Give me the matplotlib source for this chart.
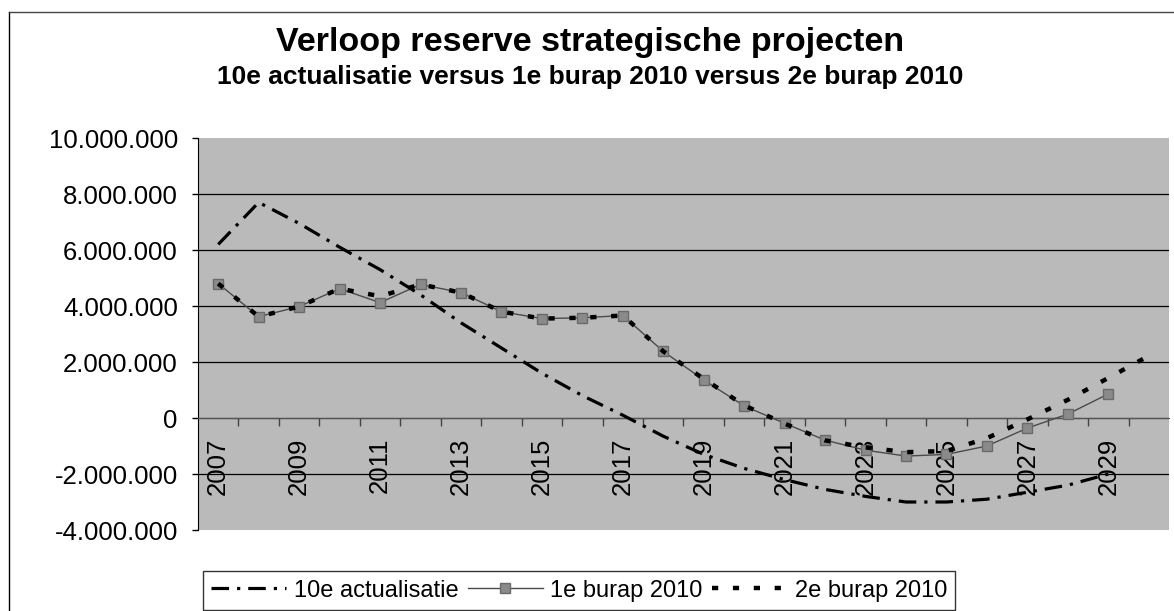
import numpy as np
import matplotlib
matplotlib.use("Agg")
import matplotlib.pyplot as plt
from matplotlib.lines import Line2D
from matplotlib.ticker import FuncFormatter, FixedLocator

plt.rcParams['font.family'] = ['Liberation Sans', 'DejaVu Sans']

# jaren op de x-as
years = list(range(2007, 2031))

# waarden in miljoenen euro's
act10 = [6.2, 7.7, 6.95, 6.1, 5.3, 4.4, 3.4, 2.5, 1.6, 0.8, 0.1, -0.65,
         -1.3, -1.8, -2.2, -2.55, -2.8, -3.0, -3.0, -2.9, -2.65, -2.4, -2.0, np.nan]
burap1 = [4.8, 3.62, 3.98, 4.62, 4.12, 4.77, 4.48, 3.8, 3.55, 3.58, 3.66, 2.38,
          1.36, 0.43, -0.19, -0.79, -1.15, -1.36, -1.3, -1.0, -0.36, 0.14, 0.86, np.nan]
burap2 = [4.8, 3.62, 3.98, 4.62, 4.35, 4.77, 4.48, 3.8, 3.55, 3.58, 3.66, 2.38,
          1.4, 0.45, -0.2, -0.8, -1.05, -1.22, -1.18, -0.72, -0.05, 0.65, 1.43, 2.22]

y_ticks = [-4, -2, 0, 2, 4, 6, 8, 10]

W, H = 1174, 611
fig = plt.figure(figsize=(W / 100, H / 100), dpi=100, facecolor='white')

# plotgebied
ax = fig.add_axes([198 / W, 1 - 530 / H, 971 / W, 392 / H])
ax.set_facecolor('#bababa')

x = np.arange(len(years))
ax.plot(x, np.array(act10) * 1e6, color='black', lw=2.3, dashes=(5.5, 2.5, 1, 2.5),
        label='10e actualisatie', zorder=3)
ax.plot(x, np.array(burap1) * 1e6, color='#4a4a4a', lw=1, marker='s', ms=6.5,
        mfc='#8a8a8a', mec='#6a6a6a', label='1e burap 2010', zorder=4)
ax.plot(x, np.array(burap2) * 1e6, color='black', lw=3.2, dashes=(1.4, 3.3),
        label='2e burap 2010', zorder=5)

ax.set_xlim(-0.5, len(years) - 0.5)
ax.set_ylim(y_ticks[0] * 1e6, y_ticks[-1] * 1e6)

ax.set_yticks([v * 1e6 for v in y_ticks])
ax.yaxis.set_major_formatter(FuncFormatter(lambda v, p: f"{int(round(v)):,}".replace(',', '.')))
ax.tick_params(axis='y', labelsize=18.5, length=4.5, width=1, pad=10, direction='out')

ax.grid(axis='y', color='black', lw=0.9)
gl = ax.get_ygridlines()
gl[0].set_visible(False)
gl[-1].set_visible(False)
ax.set_axisbelow(True)

# x-as op nul, labels om het jaar
ax.spines['bottom'].set_position(('data', 0))
ax.spines['bottom'].set_color('#555555')
ax.spines['top'].set_visible(False)
ax.spines['right'].set_visible(False)
ax.spines['left'].set_color('black')

ax.set_xticks(x[::2])
ax.set_xticklabels([str(y) for y in years[::2]], rotation=90, fontsize=18.5)
ax.xaxis.set_minor_locator(FixedLocator(np.arange(0.5, len(years) - 1, 1)))
ax.tick_params(axis='x', which='major', length=0, pad=14)
ax.tick_params(axis='x', which='minor', length=6, width=1, color='#444444', direction='out')

# titels
fig.text(0.503, 1 - 43 / H, 'Verloop reserve strategische projecten',
         ha='center', va='center', fontsize=24.5, fontweight='bold')
fig.text(0.503, 1 - 77 / H, '10e actualisatie versus 1e burap 2010 versus 2e burap 2010',
         ha='center', va='center', fontsize=19, fontweight='bold')

# legenda
leg = ax.legend(loc='lower center', bbox_to_anchor=(579 / W, 1 / H), bbox_transform=fig.transFigure,
                ncol=3, fontsize=17, frameon=True, fancybox=False, edgecolor='black',
                handlelength=3.2, handletextpad=0.3, columnspacing=0.4, borderpad=0.35,
                borderaxespad=0)
leg.get_frame().set_linewidth(1)

# kader van de grafiek
fig.add_artist(Line2D([9 / W, 9 / W], [0, 1 - 12 / H], transform=fig.transFigure, color='black', lw=1))
fig.add_artist(Line2D([9 / W, 1], [1 - 12 / H, 1 - 12 / H], transform=fig.transFigure, color='#444444', lw=1))

fig.savefig('out.png', dpi=100, facecolor='white')
